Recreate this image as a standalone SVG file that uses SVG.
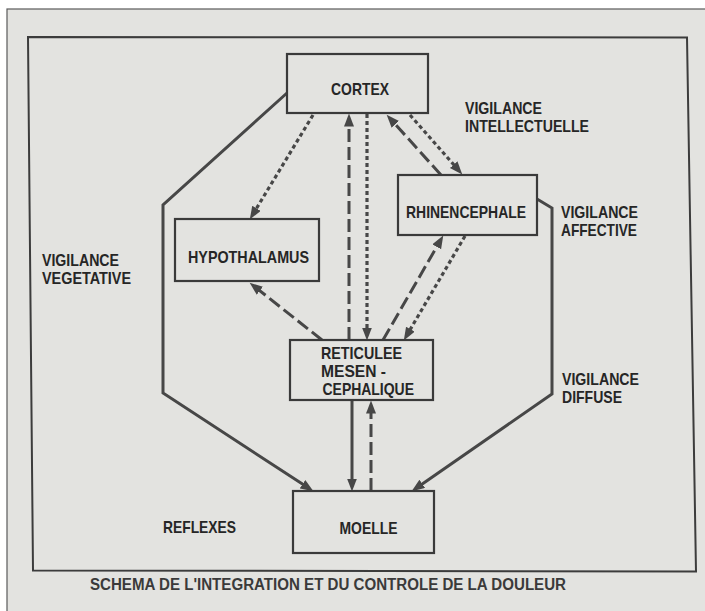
<svg xmlns="http://www.w3.org/2000/svg" width="705" height="611" viewBox="0 0 705 611">
  <defs>
    <style>
      .page { fill: #e3e3e0; stroke: #5a5a5a; stroke-width: 1.2; }
      .frame { fill: none; stroke: #3c3c3c; stroke-width: 2; }
      .box { fill: #e3e3e0; stroke: #3a3a3a; stroke-width: 2.2; }
      .t { font-family: "Liberation Sans", Arial, sans-serif; font-weight: bold; font-size: 17px; fill: #262626; }
      .cap { font-family: "Liberation Sans", Arial, sans-serif; font-weight: bold; font-size: 16px; fill: #3a3a3a; }
      .ln { fill: none; stroke: #474747; stroke-width: 3; stroke-linejoin: miter; }
      .dash { stroke-dasharray: 13 5; }
      .dot { stroke-dasharray: 4 3; stroke-width: 3.2; }
    </style>
    <marker id="head" markerUnits="userSpaceOnUse" markerWidth="14" markerHeight="11" refX="3.5" refY="5" orient="auto">
      <path d="M0,0 L13,5 L0,10 z" fill="#474747"/>
    </marker>
  </defs>

  <!-- paper and outer frame -->
  <rect width="705" height="611" fill="#ffffff"/>
  <rect class="page" x="7" y="9" width="705" height="610"/>
  <polygon class="frame" points="28,37 687,37.5 696,571.5 33,570.5"/>

  <!-- connectors -->
  <g id="connectors">
    <!-- side pathways to the spinal cord -->
    <polyline class="ln" points="287,93 163,205 163,393 305.5,486.1" marker-end="url(#head)"/>
    <polyline class="ln" points="537,199 552,208 552,394 419.4,485.9" marker-end="url(#head)"/>
    <!-- reticular formation <-> cortex -->
    <line class="ln dash" x1="349" y1="340" x2="349" y2="123" marker-end="url(#head)"/>
    <line class="ln dot" x1="367" y1="114" x2="367" y2="331" marker-end="url(#head)"/>
    <!-- hypothalamus -->
    <line class="ln dot" x1="313" y1="115" x2="254.7" y2="211.3" marker-end="url(#head)"/>
    <line class="ln dash" x1="322" y1="340" x2="257.1" y2="288.6" marker-end="url(#head)"/>
    <!-- rhinencephale <-> cortex -->
    <line class="ln dash" x1="441" y1="175" x2="393" y2="121.7" marker-end="url(#head)"/>
    <line class="ln dot" x1="410" y1="115" x2="456" y2="167.3" marker-end="url(#head)"/>
    <!-- rhinencephale <-> reticulee -->
    <line class="ln dash" x1="383" y1="340" x2="438.5" y2="243.8" marker-end="url(#head)"/>
    <line class="ln dot" x1="465" y1="236" x2="408.6" y2="332.2" marker-end="url(#head)"/>
    <!-- reticulee <-> moelle -->
    <line class="ln" x1="352" y1="401" x2="352" y2="482" marker-end="url(#head)"/>
    <line class="ln dash" x1="371" y1="491" x2="371" y2="410" marker-end="url(#head)"/>
  </g>

  <!-- nodes -->
  <g id="cortex">
    <rect class="box" x="287" y="54" width="141" height="59"/>
    <text class="t" x="331" y="95" textLength="58" lengthAdjust="spacingAndGlyphs">CORTEX</text>
  </g>
  <g id="rhinencephale">
    <rect class="box" x="398" y="175" width="139" height="60"/>
    <text class="t" x="406" y="217.5" textLength="120" lengthAdjust="spacingAndGlyphs">RHINENCEPHALE</text>
  </g>
  <g id="hypothalamus">
    <rect class="box" x="175" y="219" width="144" height="62"/>
    <text class="t" x="188" y="262.5" textLength="121" lengthAdjust="spacingAndGlyphs">HYPOTHALAMUS</text>
  </g>
  <g id="reticulee">
    <rect class="box" x="290" y="340" width="143" height="60"/>
    <text class="t" x="321" y="358.5" textLength="81" lengthAdjust="spacingAndGlyphs">RETICULEE</text>
    <text class="t" x="321" y="376.5" textLength="65" lengthAdjust="spacingAndGlyphs">MESEN -</text>
    <text class="t" x="322.5" y="394.5" textLength="91.5" lengthAdjust="spacingAndGlyphs">CEPHALIQUE</text>
  </g>
  <g id="moelle">
    <rect class="box" x="293" y="491" width="141" height="62"/>
    <text class="t" x="339.5" y="534" textLength="58" lengthAdjust="spacingAndGlyphs">MOELLE</text>
  </g>

  <!-- side labels -->
  <g id="labels">
    <text class="t" x="465" y="114" textLength="77" lengthAdjust="spacingAndGlyphs">VIGILANCE</text>
    <text class="t" x="465" y="132" textLength="124" lengthAdjust="spacingAndGlyphs">INTELLECTUELLE</text>
    <text class="t" x="561" y="218" textLength="77" lengthAdjust="spacingAndGlyphs">VIGILANCE</text>
    <text class="t" x="561" y="236" textLength="76" lengthAdjust="spacingAndGlyphs">AFFECTIVE</text>
    <text class="t" x="42" y="265.5" textLength="77" lengthAdjust="spacingAndGlyphs">VIGILANCE</text>
    <text class="t" x="42" y="283.5" textLength="89" lengthAdjust="spacingAndGlyphs">VEGETATIVE</text>
    <text class="t" x="562" y="384.8" textLength="77" lengthAdjust="spacingAndGlyphs">VIGILANCE</text>
    <text class="t" x="562" y="402.8" textLength="60" lengthAdjust="spacingAndGlyphs">DIFFUSE</text>
    <text class="t" x="163" y="533.3" textLength="73" lengthAdjust="spacingAndGlyphs">REFLEXES</text>
  </g>

  <!-- caption -->
  <text class="cap" x="90" y="590" textLength="476" lengthAdjust="spacingAndGlyphs">SCHEMA DE L'INTEGRATION ET DU CONTROLE DE LA DOULEUR</text>
</svg>
